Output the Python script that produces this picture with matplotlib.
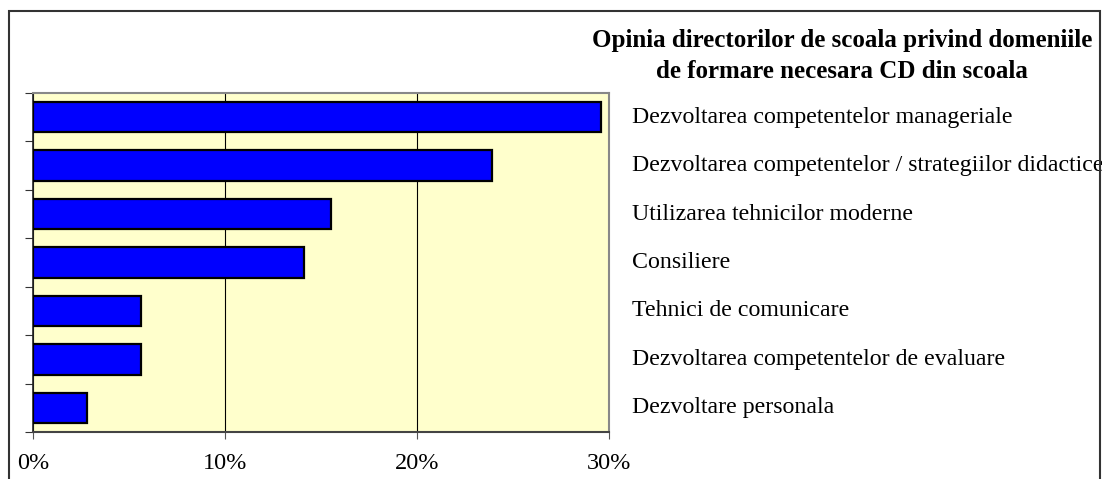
import numpy as np
import matplotlib.pyplot as plt
import matplotlib.transforms as mtransforms
from matplotlib.patches import Rectangle

# === DATA ===
categories = [
    "Dezvoltarea competentelor manageriale",
    "Dezvoltarea competentelor / strategiilor didactice",
    "Utilizarea tehnicilor moderne",
    "Consiliere",
    "Tehnici de comunicare",
    "Dezvoltarea competentelor de evaluare",
    "Dezvoltare personala",
]
values = [29.6, 23.9, 15.5, 14.1, 5.6, 5.6, 2.8]
xticks = [0, 10, 20, 30]
xtick_labels = ["0%", "10%", "20%", "30%"]
title = "Opinia directorilor de scoala privind domeniile\nde formare necesara CD din scoala"

plt.rcParams['font.family'] = ['Liberation Serif', 'DejaVu Serif']

W, H = 1102, 479
fig = plt.figure(figsize=(W / 100, H / 100), dpi=100)
ax = fig.add_axes([33 / W, 1 - 432 / H, (609 - 33) / W, (432 - 93) / H])
ax.set_facecolor("#FFFFCC")

n = len(categories)
ypos = np.arange(n)
ax.barh(ypos, values, height=0.63, color="#0000FF", edgecolor="black",
        linewidth=1.6, zorder=3)
ax.set_ylim(n - 0.5, -0.5)
ax.set_xlim(0, 30)

# gridlines
ax.set_xticks(xticks)
ax.set_xticklabels(xtick_labels, fontsize=17.5)
ax.xaxis.grid(True, color="black", linewidth=0.8, zorder=1)
ax.set_axisbelow(True)
ax.tick_params(axis="x", length=5, color="#555555", pad=10)

# y ticks at category boundaries, no labels
ax.set_yticks(np.arange(n + 1) - 0.5)
ax.set_yticklabels([])
ax.tick_params(axis="y", length=6, color="#333333", direction="out")

for side in ["top", "right"]:
    ax.spines[side].set_color("#888888")
    ax.spines[side].set_linewidth(1.5)
ax.spines["left"].set_color("#222222")
ax.spines["left"].set_linewidth(1.2)
ax.spines["bottom"].set_color("#444444")
ax.spines["bottom"].set_linewidth(1.5)

# category labels on the right
trans = mtransforms.blended_transform_factory(ax.transAxes, ax.transData)
for i, name in enumerate(categories):
    ax.text(1 + 23 / 576, i, name, transform=trans, ha="left", va="center",
            fontsize=17.2)

fig.text(842 / W, 1 - 56 / H, title, ha="center", va="center",
         fontsize=18, fontweight="bold", linespacing=1.5)

# outer frame
frame = Rectangle((9 / W, -0.05), (1100 - 9) / W, 1.05 - 11 / H,
                  transform=fig.transFigure, fill=False,
                  edgecolor="#333333", linewidth=1.5)
fig.patches.append(frame)

fig.savefig("out.png", dpi=100)
